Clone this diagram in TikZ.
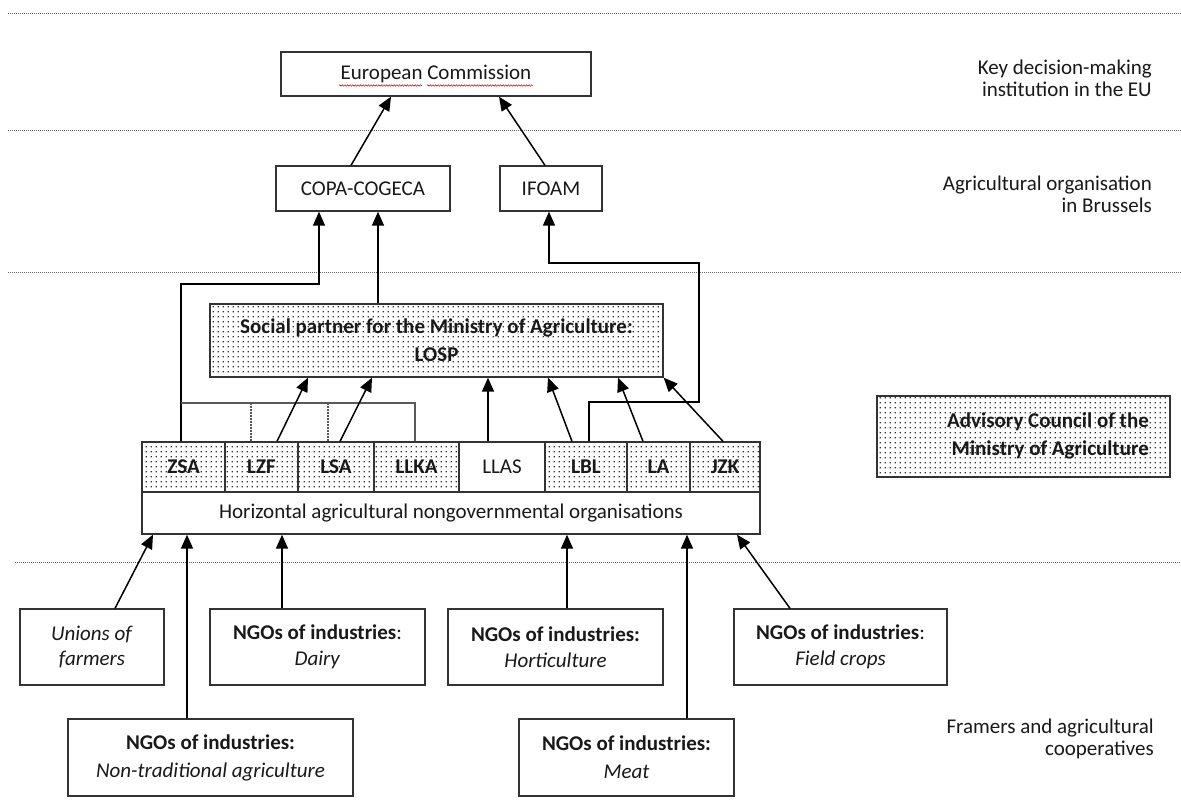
\documentclass[tikz,border=0pt]{standalone}
\usepackage{fontspec}
\setmainfont{Carlito}
\usetikzlibrary{arrows.meta,patterns,decorations.pathmorphing}
\pgfdeclarepatternformonly{smalldots}{\pgfqpoint{0pt}{0pt}}{\pgfqpoint{4.8pt}{4.8pt}}{\pgfqpoint{4.8pt}{4.8pt}}{\pgfpathrectangle{\pgfqpoint{1.8pt}{1.8pt}}{\pgfqpoint{1.25pt}{1.25pt}}\pgfusepath{fill}}
\begin{document}
\begin{tikzpicture}[x=1pt,y=-1pt,
  box/.style={draw=black!80, line width=1.3pt, inner sep=0pt, align=center, text=black!90,
    font=\fontsize{21}{26}\selectfont},
  dotbox/.style={box, pattern=smalldots, pattern color=black!80},
  lab/.style={inner sep=0pt, align=right, anchor=east, text=black!90, font=\fontsize{21}{22}\selectfont},
  sep/.style={draw=black!60, line width=1pt, dash pattern=on 1pt off 1pt},
  arr/.style={draw=black, line width=1.5pt, -{Triangle[length=14pt,width=12pt]}},
  link/.style={draw=black!65, line width=1.5pt},
  linkdot/.style={draw=black!65, line width=1.2pt, dash pattern=on 1.5pt off 1.5pt},
  wavy/.style={draw=red!85!black, line width=0.5pt, decorate, decoration={snake, amplitude=0.8pt, segment length=2.6pt}}
]
\fill[white] (0,0) rectangle (1181,801);
\useasboundingbox (0,0) rectangle (1181,801);

% separators
\draw[sep] (8,13) -- (1181,13);
\draw[sep] (8,130) -- (1181,130);
\draw[sep] (8,272) -- (1181,272);
\draw[sep] (15,562) -- (1181,562);

% level labels
\node[lab] (lab1) at (1152,78) {Key decision-making\\institution in the EU};
\node[lab] (lab2) at (1152,194) {Agricultural organisation\\in Brussels};
\node[lab] (lab3) at (1154,739) {Framers and agricultural\\cooperatives};

% top
\node[box, minimum width=310pt, minimum height=44pt] (ec) at (436,74) {European Commission};
\draw[wavy] (339,85.5) -- (422,85.5);
\draw[wavy] (427,85.5) -- (533,85.5);

\node[box, minimum width=174pt, minimum height=45pt] (copa) at (363,188.5) {COPA-COGECA};
\node[box, minimum width=102pt, minimum height=45pt] (ifoam) at (551,188.5) {IFOAM};

% LOSP
\node[dotbox, minimum width=453pt, minimum height=73pt, font=\fontsize{21}{28}\selectfont\bfseries] (losp) at (436.5,340.5) {Social partner for the Ministry of Agriculture:\\LOSP};

% legend
\node[dotbox, minimum width=293pt, minimum height=81pt] (legend) at (1023.5,436.5) {};
\node[lab, font=\fontsize{21}{28}\selectfont\bfseries] (legtext) at (1149,436) {Advisory Council of the\\Ministry of Agriculture};

% row of organisations
\node[dotbox, minimum width=83pt, minimum height=50pt, font=\fontsize{21}{26}\selectfont\bfseries] (zsa) at (183.5,467) {ZSA};
\node[dotbox, minimum width=73pt, minimum height=50pt, font=\fontsize{21}{26}\selectfont\bfseries] (lzf) at (261.5,467) {LZF};
\node[dotbox, minimum width=76pt, minimum height=50pt, font=\fontsize{21}{26}\selectfont\bfseries] (lsa) at (336,467) {LSA};
\node[dotbox, minimum width=85pt, minimum height=50pt, font=\fontsize{21}{26}\selectfont\bfseries] (llka) at (416.5,467) {LLKA};
\node[box, minimum width=86pt, minimum height=50pt] (llas) at (502,467) {LLAS};
\node[dotbox, minimum width=82pt, minimum height=50pt, font=\fontsize{21}{26}\selectfont\bfseries] (lbl) at (586,467) {LBL};
\node[dotbox, minimum width=63pt, minimum height=50pt, font=\fontsize{21}{26}\selectfont\bfseries] (la) at (658.5,467) {LA};
\node[dotbox, minimum width=70pt, minimum height=50pt, font=\fontsize{21}{26}\selectfont\bfseries] (jzk) at (725,467) {JZK};
\node[box, minimum width=618pt, minimum height=42pt] (horiz) at (451,513) {Horizontal agricultural nongovernmental organisations};

% bottom boxes
\node[box, minimum width=144pt, minimum height=76pt, font=\fontsize{21}{25}\selectfont] (unions) at (92,647) {\textit{Unions of}\\\textit{farmers}};
\node[box, minimum width=215pt, minimum height=76pt] (dairy) at (317.5,647) {\textbf{NGOs of industries}:\\\textit{Dairy}};
\node[box, minimum width=215pt, minimum height=76pt] (hort) at (555.5,647) {\textbf{NGOs of industries:}\\\textit{Horticulture}};
\node[box, minimum width=213pt, minimum height=76pt] (field) at (840.5,647) {\textbf{NGOs of industries}:\\\textit{Field crops}};
\node[box, minimum width=285pt, minimum height=77pt, font=\fontsize{21}{28}\selectfont] (nontrad) at (210.5,757.5) {\textbf{NGOs of industries:}\\\textit{Non-traditional agriculture}};
\node[box, minimum width=215pt, minimum height=77pt, font=\fontsize{21}{28}\selectfont] (meat) at (626.5,757.5) {\textbf{NGOs of industries:}\\\textit{Meat}};

% connectors to the EU
\draw[arr] (copa.north -| 351,0) -- (ec.south -| 391,0);
\draw[arr] (ifoam.north -| 545,0) -- (ec.south -| 499,0);

% to Brussels
\draw[arr] (zsa.north -| 181,0) -- (181,284) -- (319,284) -- (copa.south -| 319,0);
\draw[arr] (losp.north -| 378,0) -- (copa.south -| 378,0);
\draw[arr] (lbl.north -| 589,0) -- (589,402) -- (699,402) -- (699,263) -- (549,263) -- (ifoam.south -| 549,0);

% grey grouping line
\draw[link] (181,403) -- (415,403) -- (llka.north -| 415,0);
\draw[linkdot] (251,403) -- (lzf.north -| 251,0);
\draw[linkdot] (328,403) -- (lsa.north -| 328,0);

% to LOSP
\draw[arr] (lzf.north -| 277,0) -- (losp.south -| 308,0);
\draw[arr] (lsa.north -| 340,0) -- (losp.south -| 372,0);
\draw[arr] (llas.north -| 488,0) -- (losp.south -| 488,0);
\draw[arr] (lbl.north -| 572,0) -- (losp.south -| 548,0);
\draw[arr] (la.north -| 643,0) -- (losp.south -| 618,0);
\draw[arr] (jzk.north -| 723,0) -- (losp.south east);

% from below
\draw[arr] (unions.north -| 115,0) -- (horiz.south -| 153,0);
\draw[arr] (nontrad.north -| 187,0) -- (horiz.south -| 187,0);
\draw[arr] (dairy.north -| 282,0) -- (horiz.south -| 282,0);
\draw[arr] (hort.north -| 567,0) -- (horiz.south -| 567,0);
\draw[arr] (meat.north -| 687,0) -- (horiz.south -| 687,0);
\draw[arr] (field.north -| 790,0) -- (horiz.south -| 737,0);
\end{tikzpicture}
\end{document}
